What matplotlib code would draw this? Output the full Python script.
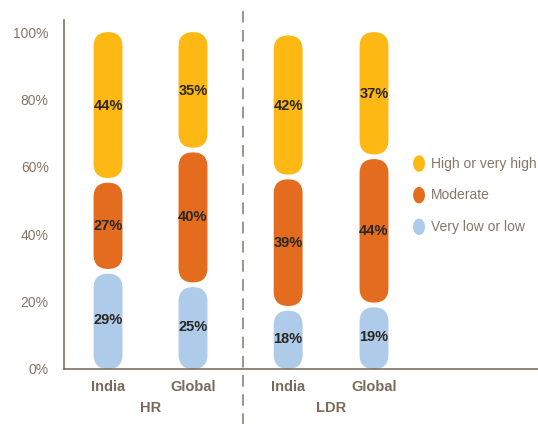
import matplotlib
matplotlib.use("Agg")
import matplotlib.pyplot as plt
from matplotlib.patches import FancyBboxPatch, Ellipse

# risk distribution by country and model
groups = ["HR", "LDR"]
bar_labels = ["India", "Global", "India", "Global"]
bar_pos = [0, 1, 2.12, 3.13]
very_low = [29, 25, 18, 19]
moderate = [27, 40, 39, 44]
high = [44, 35, 42, 37]
series_names = ["High or very high", "Moderate", "Very low or low"]
colors = {"High or very high": "#FDB813",
          "Moderate": "#E36C1F",
          "Very low or low": "#AECBEA"}

narrow = ["Liberation Sans Narrow", "Liberation Sans", "DejaVu Sans"]
plt.rcParams["font.family"] = ["Liberation Sans", "DejaVu Sans"]
txt_col = "#857667"

fig = plt.figure(figsize=(5.38, 4.24), dpi=100)
ax = fig.add_axes([64/538, 1-369/424, 474/538, 349/424])
ax.set_xlim(-0.518, 5.06)
ax.set_ylim(0, 103.6)

width = 0.34
gap = 0.7
# px -> data scaling so the capsule ends are round
xunit = 474/5.578
yunit = 349/103.6
aspect = xunit/yunit

for i, x in enumerate(bar_pos):
    bottom = 0
    for name, vals in [("Very low or low", very_low), ("Moderate", moderate),
                       ("High or very high", high)]:
        v = vals[i]
        lo = bottom + (gap if bottom > 0 else 0)
        hi = bottom + v - (gap if bottom + v < 99 else 0)
        r = width/2
        box = FancyBboxPatch((x - width/2, lo), width, hi - lo,
                             boxstyle="round,pad=0,rounding_size=%f" % r,
                             mutation_aspect=aspect,
                             fc=colors[name], ec="none")
        ax.add_patch(box)
        ax.text(x, bottom + v/2, "%d%%" % v, ha="center", va="center",
                fontsize=10.5, fontweight="bold", color="#2a2622", family=narrow)
        bottom += v

for s in ["top", "right"]:
    ax.spines[s].set_visible(False)
for s in ["left", "bottom"]:
    ax.spines[s].set_color("#7f6f60")
    ax.spines[s].set_linewidth(1.2)

ax.set_yticks([0, 20, 40, 60, 80, 100])
ax.set_yticklabels(["0%", "20%", "40%", "60%", "80%", "100%"])
ax.tick_params(axis="y", length=0, pad=11, labelsize=10, labelcolor=txt_col)
ax.set_xticks(bar_pos)
ax.set_xticklabels(bar_labels)
ax.tick_params(axis="x", length=0, pad=8, labelsize=10.5, labelcolor="#7a6a5a")
for t in ax.get_xticklabels():
    t.set_fontweight("bold")
    t.set_family(narrow)

# group labels under the bars
for g, (a, b) in zip(groups, [(0, 1), (2, 3)]):
    ax.text((bar_pos[a] + bar_pos[b])/2, -11.5, g, ha="center", va="center",
            fontsize=10.5, fontweight="bold", color="#7a6a5a", family=narrow)

# dashed divider between HR and LDR
ax.plot([1.59, 1.59], [-16.5, 108], ls=(0, (7, 4.5)), lw=1.2,
        color="#8c8178", clip_on=False)

# legend
for k, name in enumerate(series_names):
    y = 61 - k*9.4
    ax.add_patch(Ellipse((3.66, y), 0.14, 4.9, fc=colors[name], ec="none"))
    ax.text(3.80, y, name, va="center", ha="left", fontsize=10, color=txt_col)

fig.savefig("out.png", dpi=100)
